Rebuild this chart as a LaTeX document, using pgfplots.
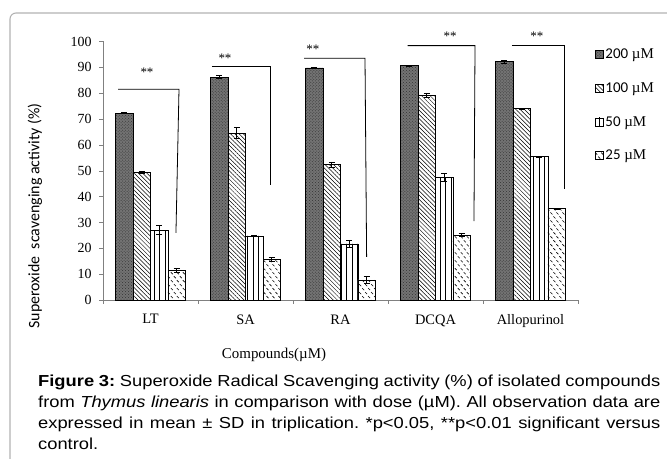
\documentclass[border=0pt]{standalone}
\usepackage{fontspec}
\setmainfont{Liberation Serif}
\setsansfont{Liberation Sans}
\newfontfamily\carlito{Carlito}
\usepackage{pgfplots}
\pgfplotsset{compat=1.18}
\usepackage{pgfplotstable}
\usepackage{graphicx}
\usetikzlibrary{patterns,patterns.meta}

\pgfdeclarepatternformonly{dashdiag}{\pgfpoint{-1pt}{-1pt}}{\pgfpoint{7pt}{9pt}}{\pgfpoint{6pt}{8pt}}{%
  \pgfsetlinewidth{0.6pt}%
  \pgfpathmoveto{\pgfpoint{0.5pt}{7.5pt}}\pgfpathlineto{\pgfpoint{2.5pt}{5.5pt}}%
  \pgfpathmoveto{\pgfpoint{3.5pt}{3.5pt}}\pgfpathlineto{\pgfpoint{5.5pt}{1.5pt}}%
  \pgfusepath{stroke}%
}

\pgfplotsset{
  sqlegend/.style={
    legend image code/.code={\draw[##1, draw=black, line width=0.5bp] (0bp,-4bp) rectangle (8bp,4bp);}
  }
}

\pgfplotstableread{
x y e
0 72.3 0.2
1 86.2 0.6
2 89.8 0.2
3 90.6 0.2
4 92.2 0.5
}\tA
\pgfplotstableread{
x y e
0 49.3 0.3
1 64.6 2.2
2 52.4 1.0
3 79.0 0.8
4 74.0 0.2
}\tB
\pgfplotstableread{
x y e
0 27.0 1.8
1 24.8 0.3
2 21.7 1.2
3 47.4 1.5
4 55.5 0.2
}\tC
\pgfplotstableread{
x y e
0 11.3 0.8
1 15.8 0.8
2 7.8 1.2
3 25.1 0.5
4 35.3 0.2
}\tD

\begin{document}
\frenchspacing
\begin{tikzpicture}
\useasboundingbox (0,0) rectangle (667bp,459bp);
\draw[black!30, line width=1.1bp, rounded corners=6bp] (10bp,-2bp) -- (10bp,446bp) -- (670bp,446bp);
\begin{axis}[
  at={(103bp,159bp)}, anchor=south west,
  scale only axis, width=475bp, height=258.5bp,
  clip=false,
  axis x line=bottom, axis y line=left,
  axis line style={black!50, -},
  xmin=-0.5, xmax=4.5, ymin=0, ymax=100,
  ytick={0,10,...,100},
  xtick={0,1,2,3,4},
  xticklabels={LT,SA,RA,DCQA,Allopurinol},
  minor xtick={-0.5,0.5,1.5,2.5,3.5,4.5},
  major x tick style={draw=none},
  minor x tick style={black!50},
  y tick style={black!50},
  tick align=outside,
  major tick length=4bp, minor tick length=4bp,
  /pgf/number format/assume math mode=true,
  tick label style={font=\fontsize{14}{16}\selectfont},
  x tick label style={yshift=-7bp, font=\fontsize{14.5}{16}\selectfont},
  y tick label style={xshift=-4bp},
  ybar=0pt, bar width=0.183,
  legend cell align=left,
  legend style={draw=none, fill=none, at={(1.03,0.985)}, anchor=north west,
    font=\fontsize{15}{17}\selectfont, row sep=19.3bp,
    nodes={inner sep=1.5bp}},
  sqlegend,
  error bars/y dir=both, error bars/y explicit,
  error bars/error mark options={rotate=90, mark size=3bp, line width=0.8bp, black},
  error bars/error bar style={line width=0.8bp, black},
]
\addplot[draw=black, line width=0.6bp, fill=black!55, postaction={pattern=crosshatch dots, pattern color=black!80}]
  table[x=x, y=y, y error=e] {\tA};
\addplot[draw=black, line width=0.6bp, fill=white, postaction={pattern={Lines[angle=-45, distance=3bp, line width=0.5bp]}}]
  table[x=x, y=y, y error=e] {\tB};
\addplot[draw=black, line width=0.6bp, fill=white, postaction={pattern={Lines[angle=90, distance=5.5bp, line width=0.9bp]}}]
  table[x=x, y=y, y error=e] {\tC};
\addplot[draw=black, line width=0.6bp, fill=white, postaction={pattern=dashdiag}]
  table[x=x, y=y, y error=e] {\tD};
\legend{{\carlito 200} µM, {\carlito 100} µM, {\carlito 50} µM, {\carlito 25} µM}

\draw[line width=0.8bp] (axis cs:-0.342,81.5) -- (axis cs:0.30,81.5) -- (axis cs:0.268,26);
\draw[line width=0.8bp] (axis cs:0.647,90.3) -- (axis cs:1.258,90.3) -- (axis cs:1.258,44.4);
\draw[line width=0.8bp] (axis cs:1.616,93.5) -- (axis cs:2.258,93.5) -- (axis cs:2.275,16.7);
\draw[line width=0.8bp] (axis cs:2.707,98.4) -- (axis cs:3.416,98.4) -- (axis cs:3.405,30.5);
\draw[line width=0.8bp] (axis cs:3.805,98.4) -- (axis cs:4.353,98.4) -- (axis cs:4.353,42.8);
\begin{scope}[every node/.style={font=\fontsize{13}{13}\selectfont, inner sep=0pt}]
\node at (axis cs:-0.037,88) {**};
\node at (axis cs:0.784,93.6) {**};
\node at (axis cs:1.71,97) {**};
\node at (axis cs:3.153,102.2) {**};
\node at (axis cs:4.068,102.2) {**};
\end{scope}
\end{axis}
\node[rotate=90, font=\carlito\fontsize{16}{18}\selectfont] at (35bp,243bp) {Superoxide\ \ scavenging activity (\%)};
\node[anchor=base, font=\fontsize{15}{17}\selectfont] at (274bp,100bp) {Compounds(µM)};
\node[anchor=north west, inner sep=0pt] at (38bp,84bp)
  {\scalebox{1.15}[1]{\parbox[t]{541bp}{\sffamily\fontsize{16}{21}\selectfont\frenchspacing
   \textbf{Figure 3:} Superoxide Radical Scavenging activity (\%) of isolated compounds\linebreak
   from \textit{Thymus linearis} in comparison with dose (µM). All observation data are\linebreak
   expressed in mean ± SD in triplication. *p<0.05, **p<0.01 significant versus\linebreak
   control.}}};
\end{tikzpicture}
\end{document}
